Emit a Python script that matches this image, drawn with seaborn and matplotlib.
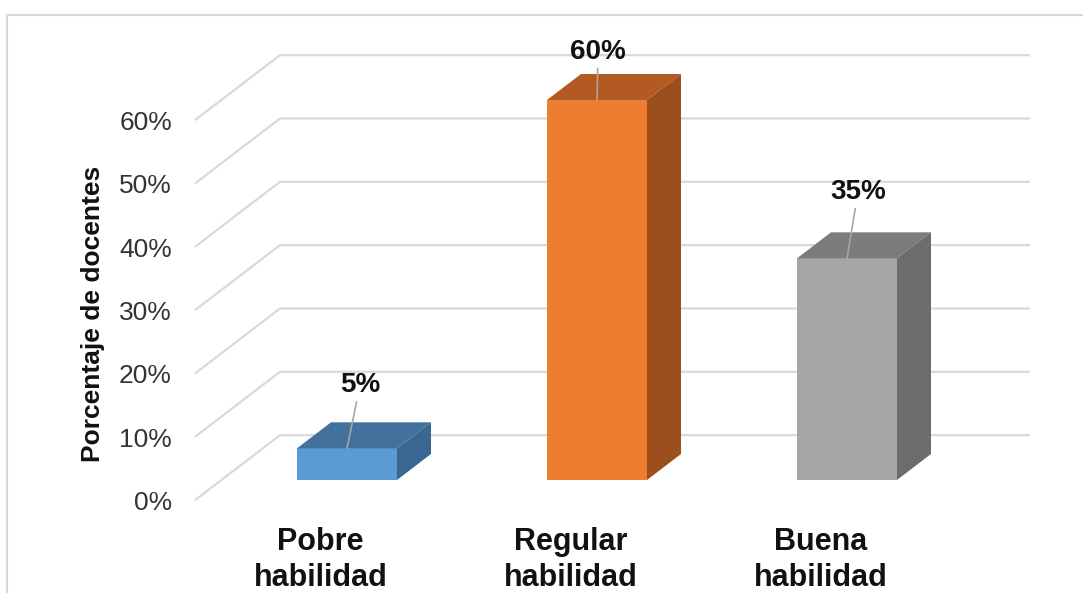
import matplotlib
matplotlib.use("Agg")
import matplotlib.pyplot as plt
from matplotlib.patches import Polygon, Rectangle
import seaborn as sns
import pandas as pd

# ---- data ----
categories = ["Pobre\nhabilidad", "Regular\nhabilidad", "Buena\nhabilidad"]
values = [0.05, 0.60, 0.35]
ytick_values = [0.0, 0.1, 0.2, 0.3, 0.4, 0.5, 0.6]
ytick_labels = ["0%", "10%", "20%", "30%", "40%", "50%", "60%"]
y_label = "Porcentaje de docentes"

# ---- style ----
front_colors = ["#5B9BD5", "#ED7D31", "#A5A5A5"]
top_colors = ["#41719C", "#B35A22", "#7C7C7C"]
side_colors = ["#3A6791", "#9C4F1C", "#6C6C6C"]
label_offsets_px = [(13, 63), (1, 48), (11, 66)]
grid_color = "#D9D9D9"

sns.set_style("white")
plt.rcParams["font.family"] = ["Liberation Sans", "DejaVu Sans"]

W, H = 1083, 593
fig = plt.figure(figsize=(W / 100, H / 100), dpi=100)
ax = fig.add_axes([147 / W, (H - 518) / H, 900 / W, 494 / H])

df = pd.DataFrame({"cat": categories, "val": values})
sns.barplot(data=df, x="cat", y="val", hue="cat", palette=front_colors,
            width=0.4, saturation=1, legend=False, ax=ax, zorder=3)
ax.set_xlim(-0.8, 2.8)
ax.set_ylim(-0.06, 0.72)

# depth geometry (full depth: 85 px right, 65 px up)
DX = 85 / 250
DY = 65 / 633.33
D_BAR = 0.31      # depth of bar front faces
D_DEPTH = 0.40    # depth of bars


def at(x, y, d):
    return (x + (d - D_BAR) * DX, y + (d - D_BAR) * DY)


# walls / gridlines
x_wall_start = -0.5026
x_wall_end = 2.497
for v in ytick_values:
    p0 = at(x_wall_start, v, 0)
    p1 = at(x_wall_start, v, 1)
    p2 = at(x_wall_end, v, 1)
    ax.plot([p0[0], p1[0], p2[0]], [p0[1], p1[1], p2[1]], color=grid_color,
            lw=1.6, zorder=1, clip_on=False, solid_capstyle="butt")

# 3D faces from the seaborn bar patches
for i, p in enumerate(ax.patches):
    x0 = p.get_x()
    x1 = x0 + p.get_width()
    h = p.get_height()
    p.set_edgecolor("none")
    ddx, ddy = D_DEPTH * DX, D_DEPTH * DY
    top = Polygon([(x0, h), (x1, h), (x1 + ddx, h + ddy), (x0 + ddx, h + ddy)],
                  closed=True, facecolor=top_colors[i], edgecolor="none", zorder=3)
    side = Polygon([(x1, 0), (x1 + ddx, ddy), (x1 + ddx, h + ddy), (x1, h)],
                   closed=True, facecolor=side_colors[i], edgecolor="none", zorder=3)
    ax.add_patch(top)
    ax.add_patch(side)
    cx = x0 + p.get_width() / 2
    ax.annotate(f"{h * 100:.0f}%", xy=(cx, h),
                xytext=label_offsets_px[i], textcoords="offset pixels",
                ha="center", va="center", fontsize=20, fontweight="bold",
                color="#111111", zorder=6,
                arrowprops=dict(arrowstyle="-", color="#A6A6A6", lw=1.2,
                                shrinkA=0, shrinkB=0))
    # category label, projected to the front plane
    lx, _ = at(cx, 0, 0)
    ax.text(lx, -0.1263, categories[i], ha="center", va="center",
            fontsize=22, fontweight="bold", color="#111111",
            linespacing=1.22, clip_on=False)

# y tick labels at the front plane
for v, lab in zip(ytick_values, ytick_labels):
    fx, fy = at(x_wall_start, v, 0)
    ax.text(fx - 23 / 250, fy - 3 / 633.33, lab, ha="right", va="center", fontsize=19,
            color="#333333", clip_on=False)

ax.set_axis_off()

fig.text(93 / W, 1 - 314 / H, y_label, rotation=90, ha="center", va="center",
         fontsize=19, fontweight="bold", color="#111111")

# outer frame (top and left visible)
fig.patches.append(Rectangle((7 / W, -0.2), 1.2, 1.2 - 15 / H, transform=fig.transFigure,
                             fill=False, edgecolor="#D9D9D9", lw=1.5))

fig.savefig("out.png", dpi=100)
